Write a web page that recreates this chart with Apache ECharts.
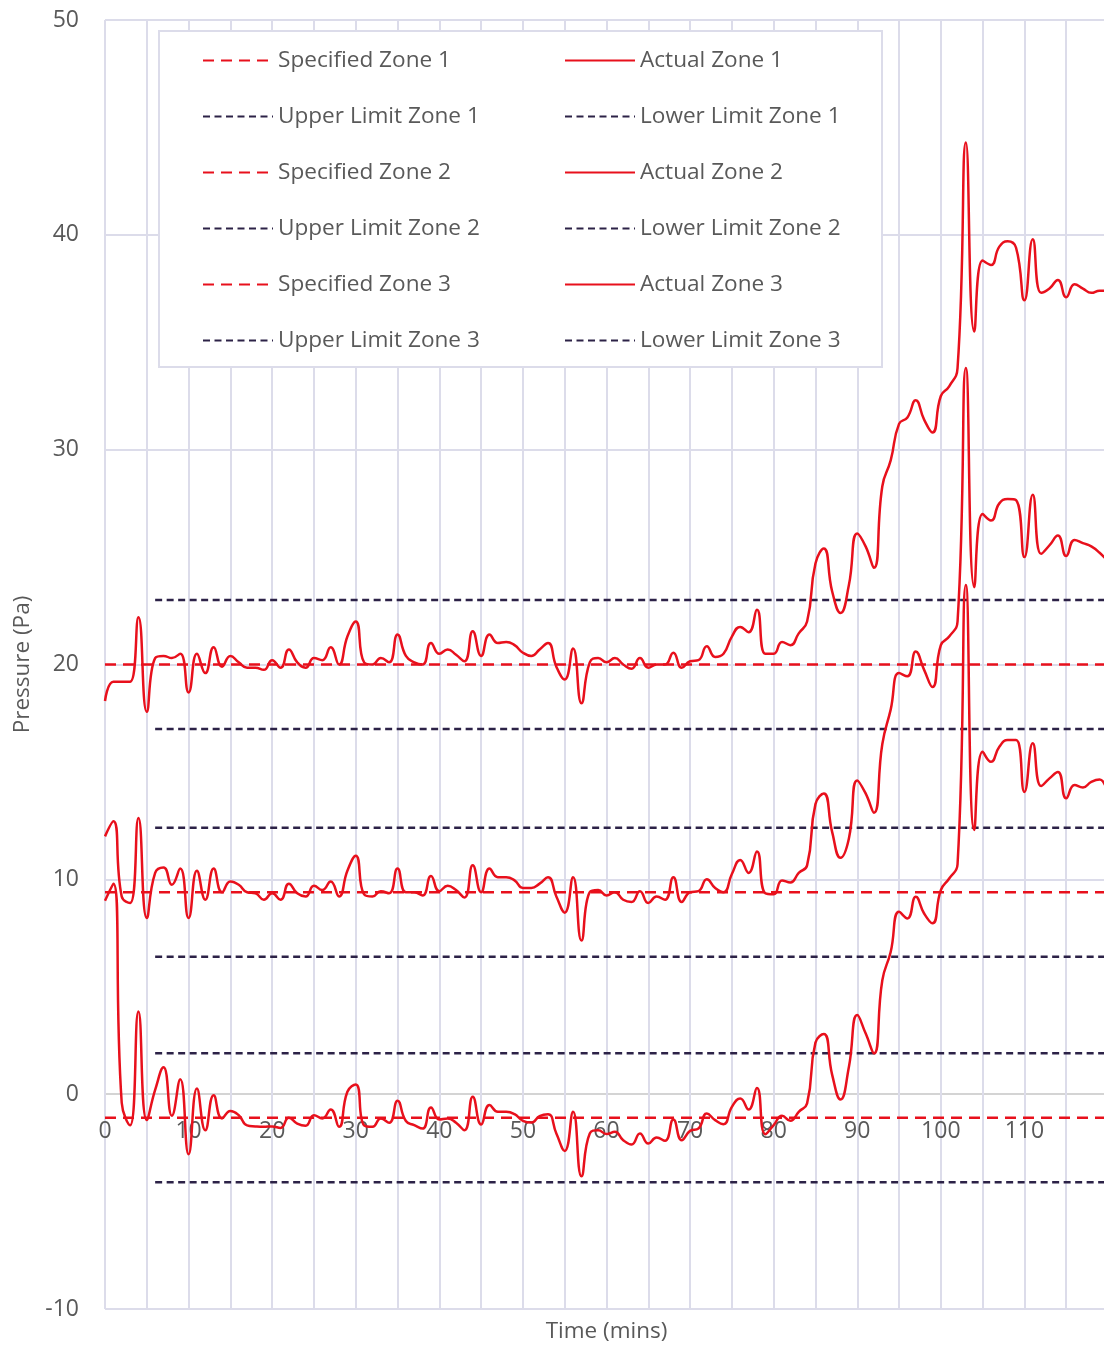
<!DOCTYPE html>
<html>
<head>
<meta charset="utf-8">
<script src="https://cdn.jsdelivr.net/npm/echarts@6/dist/echarts.min.js"></script>
<style>
  html, body { margin: 0; padding: 0; background: #fff; }
  #chart { width: 1104px; height: 1345px; }
</style>
</head>
<body>
<div id="chart"></div>
<script>
// minutes 0..120, one reading per minute
const minutes = [];
for (let i = 0; i <= 120; i++) minutes.push(i);

const actualZone1 = [
  18.3, 19.2, 19.2, 19.2, 22.2, 17.8, 20.3, 20.4, 20.3, 20.5,
  18.7, 20.5, 19.6, 20.8, 19.9, 20.4, 20.1, 19.85, 19.85, 19.75,
  20.2, 19.85, 20.7, 20.1, 19.85, 20.3, 20.2, 20.8, 20.0, 21.3,
  22.0, 20.1, 20.0, 20.3, 20.1, 21.4, 20.4, 20.1, 20.0, 21.0,
  20.5, 20.7, 20.45, 20.15, 21.55, 20.4, 21.4, 21.0, 21.05, 20.9,
  20.55, 20.4, 20.7, 21.0, 19.9, 19.3, 20.75, 18.2, 20.1, 20.3,
  20.1, 20.3, 20.0, 19.8, 20.3, 19.85, 20.0, 20.0, 20.55, 19.85,
  20.15, 20.2, 20.85, 20.35, 20.5, 21.3, 21.75, 21.5, 22.55, 20.5,
  20.5, 21.05, 20.9, 21.45, 22.0, 24.7, 25.4, 23.4, 22.4, 23.7,
  26.1, 25.5, 24.5, 28.3, 29.5, 31.2, 31.5, 32.3, 31.4, 30.8,
  32.5, 32.95, 33.8, 44.3, 35.5, 38.8, 38.6, 39.45, 39.7, 39.4,
  36.95, 39.8, 37.3, 37.5, 37.9, 37.1, 37.7, 37.5, 37.3, 37.4,
  37.4
];
const actualZone2 = [
  12.0, 12.7, 9.2, 8.9, 12.85, 8.2, 10.3, 10.55, 9.75, 10.5,
  8.2, 10.4, 9.05, 10.5, 9.4, 9.9, 9.75, 9.4, 9.35, 9.05,
  9.35, 9.05, 9.8, 9.35, 9.2, 9.7, 9.5, 9.9, 9.2, 10.4,
  11.1, 9.3, 9.2, 9.45, 9.35, 10.5, 9.4, 9.4, 9.25, 10.15,
  9.45, 9.7, 9.5, 9.15, 10.65, 9.4, 10.5, 10.1, 10.1, 9.95,
  9.6, 9.6, 9.8, 10.1, 9.2, 8.45, 10.1, 7.15, 9.4, 9.5,
  9.25, 9.4, 9.05, 8.95, 9.45, 8.9, 9.2, 9.05, 10.1, 8.95,
  9.4, 9.45, 10.0, 9.6, 9.4, 10.25, 10.9, 10.3, 11.3, 9.35,
  9.3, 9.95, 9.85, 10.3, 10.65, 13.5, 14.0, 12.2, 11.0, 11.9,
  14.6, 14.0, 13.1, 16.3, 17.9, 19.6, 19.45, 20.6, 19.75, 18.95,
  20.9, 21.3, 22.0, 33.8, 23.6, 27.0, 26.7, 27.5, 27.7, 27.65,
  25.0, 27.9, 25.15, 25.55, 26.0, 25.05, 25.8, 25.65, 25.5, 25.2,
  24.8
];
const actualZone3 = [
  9.0, 9.8, -0.4, -1.45, 3.85, -1.2, 0.2, 1.25, -1.0, 0.7,
  -2.8, 0.26, -1.68, -0.05, -1.13, -0.78, -0.98, -1.45, -1.5, -1.52,
  -1.5, -1.57, -1.1, -1.37, -1.47, -0.98, -1.13, -0.71, -1.52, 0.11,
  0.45, -1.45, -1.52, -1.13, -1.33, -0.31, -1.25, -1.44, -1.6, -0.62,
  -1.18, -1.13, -1.33, -1.68, -0.12, -1.41, -0.51, -0.82, -0.82, -0.93,
  -1.24, -1.32, -1.02, -0.93, -1.83, -2.64, -0.82, -3.82, -1.83, -1.68,
  -1.85, -1.75, -2.14, -2.34, -1.83, -2.3, -2.02, -2.17, -1.18, -2.14,
  -1.71, -1.6, -0.9, -1.21, -1.4, -0.59, -0.2, -0.71, 0.29, -1.86,
  -1.44, -1.01, -1.24, -0.82, -0.43, 2.4, 2.8, 0.9, -0.25, 1.27,
  3.68, 2.83, 1.9, 5.3, 6.62, 8.49, 8.18, 9.19, 8.41, 7.95,
  9.5, 10.04, 10.7, 23.7, 12.3, 15.94, 15.47, 16.17, 16.48, 16.48,
  14.07, 16.33, 14.34, 14.7, 15.0, 13.77, 14.39, 14.28, 14.54, 14.65,
  13.9
];

// set points and limits per zone
const specified = [20, 9.4, -1.1];
const upperLimit = [23, 12.4, 1.9];
const lowerLimit = [17, 6.4, -4.1];
const LIMIT_START = 6;
const END_MIN = 120;

const yTicks = [-10, 0, 10, 20, 30, 40, 50];

const RED = '#e8101c';
const NAVY = '#2c2247';
const GRID = '#dcdcea';
const ZERO_LINE = '#d4d4d4';
const TEXT = '#595959';
const FONT = '"Open Sans", "Noto Sans", sans-serif';

const actuals = [actualZone1, actualZone2, actualZone3];

const chart = echarts.init(document.getElementById('chart'));

const series = [];
for (let z = 0; z < 3; z++) {
  const n = z + 1;
  series.push({
    name: 'Specified Zone ' + n,
    type: 'line',
    symbol: 'none',
    silent: true,
    z: 3,
    data: [[0, specified[z]], [END_MIN, specified[z]]],
    lineStyle: { color: RED, width: 2.5, type: [11, 7] },
    itemStyle: { color: RED }
  });
  series.push({
    name: 'Actual Zone ' + n,
    type: 'line',
    symbol: 'none',
    smooth: true,
    z: 4,
    data: actuals[z].map((v, i) => [minutes[i], v]),
    lineStyle: { color: RED, width: 2.5 },
    itemStyle: { color: RED }
  });
  series.push({
    name: 'Upper Limit Zone ' + n,
    type: 'line',
    symbol: 'none',
    silent: true,
    z: 2,
    data: [[LIMIT_START, upperLimit[z]], [END_MIN, upperLimit[z]]],
    lineStyle: { color: NAVY, width: 2.5, type: [7, 4.5] },
    itemStyle: { color: NAVY }
  });
  series.push({
    name: 'Lower Limit Zone ' + n,
    type: 'line',
    symbol: 'none',
    silent: true,
    z: 2,
    data: [[LIMIT_START, lowerLimit[z]], [END_MIN, lowerLimit[z]]],
    lineStyle: { color: NAVY, width: 2.5, type: [7, 4.5] },
    itemStyle: { color: NAVY }
  });
}

const legendBase = {
  orient: 'vertical',
  top: 44,
  itemWidth: 70,
  itemHeight: 20,
  itemGap: 33,
  selectedMode: false,
  z: 10,
  itemStyle: { opacity: 0 },
  textStyle: { color: TEXT, fontSize: 22.6, fontFamily: FONT }
};

// grey line at zero, lavender for the rest
const yLineColors = yTicks.map(v => (v === 0 ? ZERO_LINE : GRID));

const options = {
  animation: false,
  backgroundColor: '#fff',
  textStyle: { fontFamily: FONT },
  grid: {
    left: 105,
    right: -4,
    top: 20,
    bottom: 36,
    outerBoundsMode: 'none',
    containLabel: false
  },
  graphic: [{
    type: 'rect',
    z: 9,
    shape: { x: 159, y: 31, width: 723, height: 336 },
    style: { fill: '#fff', stroke: GRID, lineWidth: 2 }
  }],
  legend: [
    Object.assign({}, legendBase, {
      left: 197,
      data: ['Specified Zone 1', 'Upper Limit Zone 1', 'Specified Zone 2',
             'Upper Limit Zone 2', 'Specified Zone 3', 'Upper Limit Zone 3']
    }),
    Object.assign({}, legendBase, {
      left: 559,
      data: ['Actual Zone 1', 'Lower Limit Zone 1', 'Actual Zone 2',
             'Lower Limit Zone 2', 'Actual Zone 3', 'Lower Limit Zone 3']
    })
  ],
  xAxis: {
    type: 'value',
    min: 0,
    max: END_MIN,
    interval: 5,
    name: 'Time (mins)',
    nameLocation: 'middle',
    nameGap: 11,
    nameTextStyle: { color: TEXT, fontSize: 22.5, fontFamily: FONT },
    axisLine: { show: false, onZero: false },
    axisTick: { show: false },
    axisLabel: {
      color: TEXT,
      fontSize: 23,
      fontFamily: FONT,
      // labels sit just under the zero line, as in the original
      margin: -189,
      showMaxLabel: false,
      formatter: function (v) {
        return v % 10 === 0 && v < END_MIN ? String(v) : '';
      }
    },
    splitLine: { show: true, lineStyle: { color: GRID, width: 2 } }
  },
  yAxis: {
    type: 'value',
    min: yTicks[0],
    max: yTicks[yTicks.length - 1],
    interval: 10,
    name: 'Pressure (Pa)',
    nameLocation: 'middle',
    nameGap: 71,
    nameTextStyle: { color: TEXT, fontSize: 22.5, fontFamily: FONT },
    axisLine: { show: false },
    axisTick: { show: false },
    axisLabel: { color: TEXT, fontSize: 23, fontFamily: FONT, margin: 26 },
    splitLine: { show: true, lineStyle: { color: yLineColors, width: 2 } }
  },
  series: series
};

chart.setOption(options);
</script>
</body>
</html>
